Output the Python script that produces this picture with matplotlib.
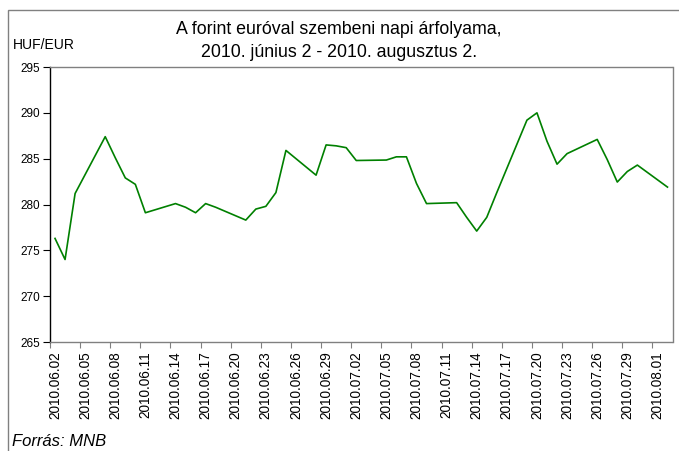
import numpy as np
import matplotlib
matplotlib.use("Agg")
import matplotlib.pyplot as plt
from matplotlib.patches import Rectangle

dates = ["2010-06-02", "2010-06-03", "2010-06-04", "2010-06-07", "2010-06-08",
         "2010-06-09", "2010-06-10", "2010-06-11", "2010-06-14", "2010-06-15",
         "2010-06-16", "2010-06-17", "2010-06-18", "2010-06-21", "2010-06-22",
         "2010-06-23", "2010-06-24", "2010-06-25", "2010-06-28", "2010-06-29",
         "2010-06-30", "2010-07-01", "2010-07-02", "2010-07-05", "2010-07-06",
         "2010-07-07", "2010-07-08", "2010-07-09", "2010-07-12", "2010-07-13",
         "2010-07-14", "2010-07-15", "2010-07-16", "2010-07-19", "2010-07-20",
         "2010-07-21", "2010-07-22", "2010-07-23", "2010-07-26", "2010-07-27",
         "2010-07-28", "2010-07-29", "2010-07-30", "2010-08-02"]
rates = [276.3, 274.0, 281.2, 287.4, 285.1,
         282.9, 282.2, 279.1, 280.1, 279.7,
         279.1, 280.1, 279.7, 278.3, 279.5,
         279.8, 281.3, 285.9, 283.2, 286.5,
         286.4, 286.2, 284.8, 284.85, 285.2,
         285.2, 282.3, 280.1, 280.2, 278.6,
         277.1, 278.6, 281.3, 289.2, 290.0,
         286.9, 284.4, 285.55, 287.1, 284.9,
         282.45, 283.6, 284.3, 281.9]
start_date = "2010-06-02"
end_date = "2010-08-02"
tick_step_days = 3
y_ticks = [265, 270, 275, 280, 285, 290, 295]

title = "A forint euróval szembeni napi árfolyama,\n2010. június 2 - 2010. augusztus 2."
ylabel = "HUF/EUR"
source = "Forrás: MNB"

plt.rcParams['font.family'] = ['Liberation Sans', 'DejaVu Sans']

d0 = np.datetime64(start_date)
d1 = np.datetime64(end_date)
ndays = int((d1 - d0).astype(int)) + 1
x = np.array([(np.datetime64(d) - d0).astype(int) for d in dates]) + 0.5

W, H = 679, 451
fig = plt.figure(figsize=(W / 100, H / 100), dpi=100)
ax = fig.add_axes([50 / W, 1 - 342 / H, 622.5 / W, 275 / H])

ax.plot(x, rates, color="#008000", lw=1.2)
ax.set_xlim(0, ndays)
ax.set_ylim(265, 295)
ax.set_yticks(y_ticks)
ax.set_yticklabels([str(v) for v in y_ticks], fontsize=8.5)

tick_pos = np.arange(0, ndays, tick_step_days)
ax.set_xticks(tick_pos)
ax.set_xticklabels([])
label_days = [d0 + np.timedelta64(int(t), 'D') for t in tick_pos]
labels = [str(d).replace("-", ".") for d in label_days]
ax.set_xticks(tick_pos + 0.5, minor=True)
ax.set_xticklabels(labels, minor=True, rotation=90, fontsize=9.8)
ax.tick_params(axis='x', which='minor', length=0, pad=7)
ax.tick_params(axis='x', which='major', direction='out', length=4, color='#808080')
ax.tick_params(axis='y', direction='out', length=5, pad=2)

for s in ['top', 'right', 'bottom']:
    ax.spines[s].set_color('#808080')
    ax.spines[s].set_linewidth(1.0)
ax.spines['left'].set_color('black')
ax.spines['left'].set_linewidth(1.0)

fig.text(339 / W, 1 - 41 / H, title, ha='center', va='center', fontsize=12.8,
         linespacing=1.45)
fig.text(13 / W, 1 - 45 / H, ylabel, ha='left', va='center', fontsize=10)
fig.text(12 / W, 1 - 441 / H, source, ha='left', va='center', fontsize=12,
         style='italic')

fig.patches.append(Rectangle((8 / W, -0.1), 1.2, 1 - 10 / H + 0.1,
                             transform=fig.transFigure, fill=False,
                             edgecolor='#808080', lw=1.0))

fig.savefig("out.png", dpi=100)
